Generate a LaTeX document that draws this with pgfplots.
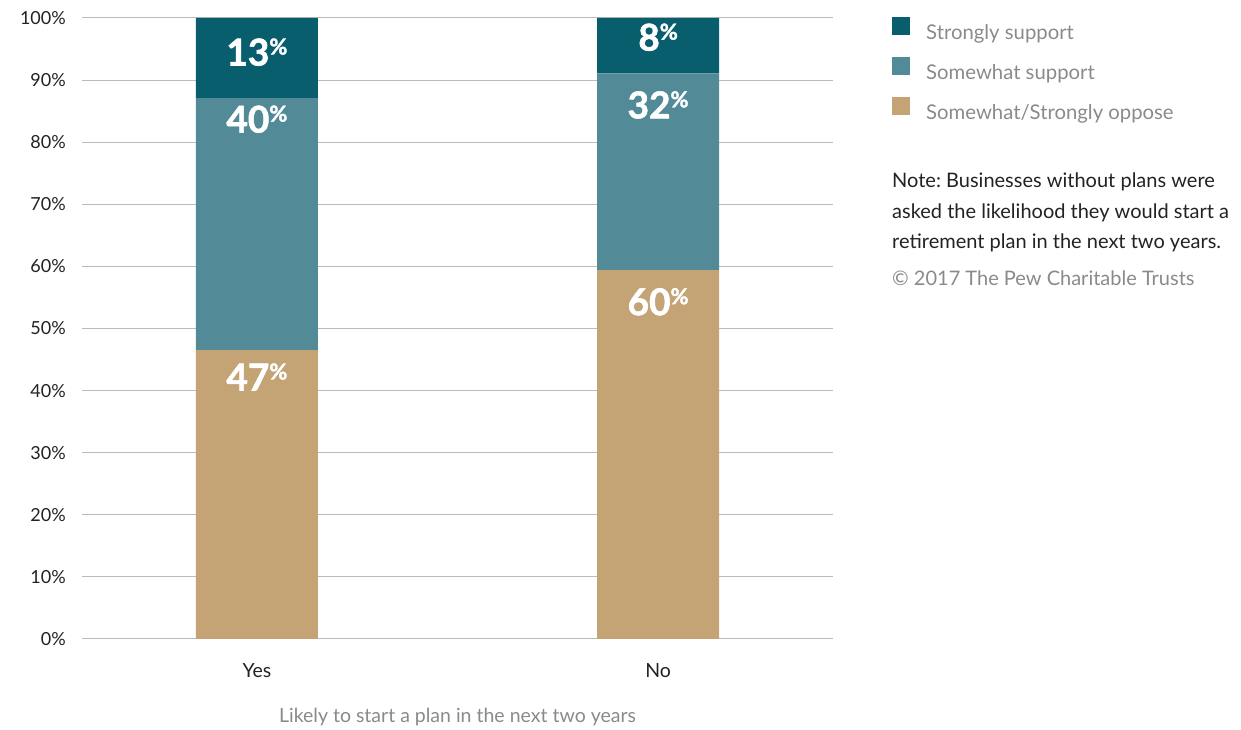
\documentclass[border=0pt]{standalone}
\usepackage{fontspec}
\setmainfont{Lato}
\newfontfamily\heavy[FakeBold=1.6]{Lato}
\usepackage{pgfplots}
\pgfplotsset{compat=1.18}
\frenchspacing
\definecolor{strong}{HTML}{085E6D}
\definecolor{somewhat}{HTML}{528B97}
\definecolor{oppose}{HTML}{C4A375}
\definecolor{gridc}{HTML}{BBBBBB}
\definecolor{greytxt}{HTML}{8A8A8A}
\definecolor{darktxt}{HTML}{222222}
\newcommand{\pct}[1]{#1\raisebox{11pt}{\fontsize{22}{22}\selectfont\%}}
\tikzset{barlab/.style={text=white, font=\fontsize{37}{37}\heavy\bfseries, inner sep=0pt}}
\begin{document}
\begin{tikzpicture}
\useasboundingbox (0,0) rectangle (1241pt,730pt);
\begin{axis}[
  at={(82pt,91pt)}, anchor=south west,
  width=751pt, height=621pt, scale only axis,
  ybar stacked, bar width=122pt,
  xmin=-0.436, xmax=1.436, ymin=0, ymax=100,
  xtick={0,1}, xticklabels={Yes,No},
  ytick={0,10,...,100},
  yticklabels={0\%,10\%,20\%,30\%,40\%,50\%,60\%,70\%,80\%,90\%,100\%},
  ymajorgrids, major grid style={gridc, line width=1pt},
  axis line style={draw=none}, major tick length=0pt,
  tick label style={font=\fontsize{18}{22}\selectfont, text=darktxt},
  yticklabel style={anchor=east, inner sep=0pt, xshift=-16pt},
  xticklabel style={anchor=north, inner sep=0pt, yshift=-24pt, font=\fontsize{19.5}{22}\selectfont},
  xlabel={Likely to start a plan in the next two years},
  xlabel style={at={(axis description cs:0.5,0)}, anchor=center, yshift=-78pt, font=\fontsize{19.5}{22}\selectfont, text=greytxt},
  reverse legend,
  legend cell align=left,
  legend image code/.code={\fill[#1] (0pt,-2.4pt) rectangle (18pt,15.6pt);},
  legend style={at={(axis description cs:1.0746,1.005)}, anchor=north west, draw=none, fill=none,
    font=\fontsize{20.3}{24}\selectfont, text=greytxt, row sep=14pt,
    column sep=14pt},
]
\addplot[fill=oppose, draw=none] coordinates {(0,46.5) (1,59.4)};
\addlegendentry{Somewhat/Strongly oppose}
\addplot[fill=somewhat, draw=none] coordinates {(0,40.6) (1,31.7)};
\addlegendentry{Somewhat support}
\addplot[fill=strong, draw=none] coordinates {(0,12.9) (1,8.9)};
\addlegendentry{Strongly support}
\coordinate (a1) at (axis cs:0,94.5);
\coordinate (a2) at (axis cs:0,83.7);
\coordinate (a3) at (axis cs:0,42.2);
\coordinate (b1) at (axis cs:1,96.9);
\coordinate (b2) at (axis cs:1,86.0);
\coordinate (b3) at (axis cs:1,54.3);
\end{axis}
\node[barlab] at (a1) {\pct{13}};
\node[barlab] at (a2) {\pct{40}};
\node[barlab] at (a3) {\pct{47}};
\node[barlab] at (b1) {\pct{8}};
\node[barlab] at (b2) {\pct{32}};
\node[barlab] at (b3) {\pct{60}};
\begin{scope}[every node/.style={anchor=base west, inner sep=0pt, font=\fontsize{20}{24}\selectfont}]
\node[text=darktxt] at (892pt,542pt) {Note: Businesses without plans were};
\node[text=darktxt] at (892pt,511pt) {asked the likelihood they would start a};
\node[text=darktxt] at (892pt,481pt) {retirement plan in the next two years.};
\node[text=greytxt] at (892pt,444pt) {© 2017 The Pew Charitable Trusts};
\end{scope}
\end{tikzpicture}
\end{document}
